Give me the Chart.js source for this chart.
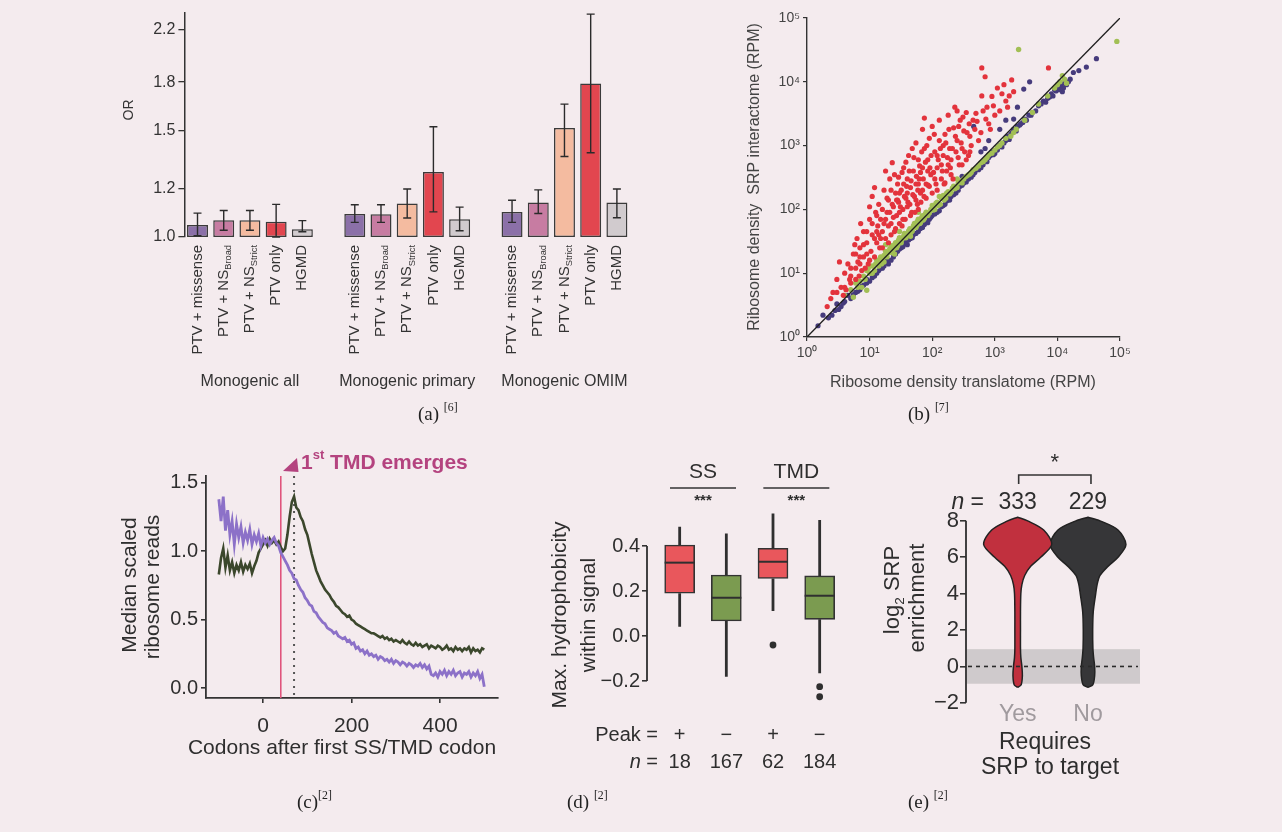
<!DOCTYPE html>
<html lang="en">
<head>
<meta charset="UTF-8">
<title>Figure panels (a)-(e)</title>
<script src="https://cdn.jsdelivr.net/npm/chart.js"></script>
<style>
  html, body { margin: 0; padding: 0; background: #f4ebee; }
  #page { position: relative; width: 1282px; height: 832px; overflow: hidden; background: #f4ebee; }
  #page canvas { position: absolute; left: 0; top: 0; }
</style>
</head>
<body>
<div id="page">
  <canvas id="chartA" width="1282" height="832"></canvas>
  <canvas id="chartB" width="1282" height="832"></canvas>
  <canvas id="chartC" width="1282" height="832"></canvas>
  <canvas id="chartD" width="1282" height="832"></canvas>
  <canvas id="chartE" width="1282" height="832"></canvas>
</div>
<script>
// ---------- (a) odds ratios with 95% CI ----------
const aGroups = ['Monogenic all', 'Monogenic primary', 'Monogenic OMIM'];
const aTests = ['PTV + missense', 'PTV + NS_{Broad}', 'PTV + NS_{Strict}', 'PTV only', 'HGMD'];
const orAll = [1.047, 1.066, 1.066, 1.06, 1.03];
const loAll = [1.005, 1.026, 1.026, 1.0, 1.02];
const hiAll = [1.095, 1.106, 1.106, 1.132, 1.064];
const orPrimary = [1.091, 1.09, 1.136, 1.28, 1.07];
const loPrimary = [1.057, 1.057, 1.075, 1.10, 1.024];
const hiPrimary = [1.13, 1.13, 1.2, 1.52, 1.12];
const orOmim = [1.10, 1.14, 1.513, 1.79, 1.14];
const loOmim = [1.057, 1.093, 1.357, 1.377, 1.076];
const hiOmim = [1.15, 1.196, 1.656, 2.33, 1.2];
const aTicks = [1.0, 1.2, 1.5, 1.8, 2.2];

// ---------- (b) ribosome density, RPM [translatome, SRP interactome] ----------
const redPts = [[2.1,3],[2.6,5],[3,8],[3.3,15],[3.5,6],[4,10],[4.2,5.5],[4.5,14],[3.8,4.5],[5,12],[5.5,20],[6,8],[6.3,35],[6.5,15],[7,25],[7.5,11],[8,45],[8,18],[7.2,60],[5.8,28],[6.8,9],[9,30],[9.5,14],[10,70],[10.5,22],[11,160],[11,40],[12,18],[12.5,90],[13,30],[13.5,55],[14,120],[14.5,25],[15,70],[10,110],[12,220],[16,45],[17,200],[18,35],[19,90],[20,140],[21,300],[22,60],[23,540],[24,110],[25,45],[26,180],[27,80],[28,250],[29,130],[30,60],[18,400],[25,350],[32,200],[34,100],[35,450],[37,70],[38,150],[40,300],[42,700],[44,120],[45,220],[47,90],[50,400],[52,160],[55,1100],[55,250],[58,120],[60,600],[48,900],[62,300],[65,180],[70,1800],[70,450],[75,900],[80,250],[85,600],[90,1300],[95,350],[100,2000],[100,180],[110,800],[120,450],[130,2500],[130,1200],[140,300],[150,700],[75,2700],[160,1500],[170,400],[180,3000],[190,900],[200,600],[220,1900],[230,4000],[250,1200],[270,500],[280,2500],[300,900],[320,1700],[350,3300],[380,700],[400,1400],[250,3500],[450,2500],[500,3200],[550,1200],[620,16500],[620,6000],[700,12000],[750,4000],[800,2200],[900,5900],[1000,3000],[1100,8000],[1300,6500],[1500,5000],[1860,10700],[1700,6000],[2000,7000],[7200,16500],[15,35],[20,55],[22,40],[30,90],[33,55],[40,110],[45,80],[55,140],[60,100],[70,200],[80,150],[90,230],[110,300],[120,200],[140,500],[160,260],[200,350],[240,800],[300,500],[350,600],[120,700],[60,250],[40,180],[28,140],[17,60],[13,45],[9,20],[7,18],[5,9],[35,250],[65,380],[85,400],[150,1000],[180,500],[400,800],
  [11,60],[12,35],[13,80],[14,40],[16,100],[16,25],[18,70],[19,150],[20,30],[21,90],[22,200],[23,120],[24,75],[26,50],[27,140],[29,320],[30,180],[31,110],[33,380],[34,70],[36,160],[38,550],[39,230],[41,130],[43,400],[46,280],[49,170],[51,650],[53,90],[56,330],[59,200],[63,480],[66,130],[68,800],[72,300],[74,160],[78,550],[82,1000],[86,240],[92,450],[96,700],[105,380],[108,1500],[115,250],[125,600],[135,900],[145,400],[155,250],[165,1100],[175,650],[185,1800],[195,450],[210,900],[215,300],[235,1400],[260,650],[265,2000],[290,1100],[310,2800],[330,800],[360,1600],[390,2200],[420,1000],[480,1800],[520,2400],[600,1600],[650,3500],[720,2600],[850,1800],[950,4200],[1200,3500],[1400,9000],[1600,4000],[4,6],[4.8,8],[6,12],[7,14],[8,28],[9,45],[10,16],[8.5,12],[6,20],[3,5],[2.4,4],[5,7]];
const greenPts = [[4,4.5],[5,5.5],[5.5,4.2],[6,7],[7,7.5],[7.5,6],[8,9],[9,5.4],[9,11],[10,10],[11,13],[12,11],[13,16],[14,13],[15,18],[16,17],[17,15],[18,22],[20,21],[22,27],[24,24],[26,30],[28,27],[30,36],[33,34],[36,42],[40,40],[44,50],[48,46],[52,60],[56,55],[60,70],[65,62],[70,80],[75,72],[80,90],[90,88],[100,115],[110,100],[120,130],[135,120],[150,165],[165,150],[180,190],[200,185],[220,230],[250,220],[280,280],[300,260],[350,330],[400,360],[450,420],[500,440],[600,540],[700,600],[800,720],[1000,850],[1200,1000],[1500,1300],[2000,1600],[2400,32000],[89000,43000],[9000,8000],[11000,10000],[12000,12500],[30,45],[60,90],[25,20],[45,38],[130,160],[18,28],[250,300],
  [6.5,6],[8.5,8],[9.5,12],[11,10],[12.5,14],[14,16],[15.5,14],[17,19],[19,18],[21,24],[23,21],[25,28],[27,25],[29,33],[32,30],[35,38],[38,36],[42,46],[46,44],[50,55],[55,52],[58,65],[63,60],[68,75],[72,68],[78,85],[85,80],[95,100],[105,98],[115,125],[125,115],[140,150],[155,140],[170,180],[190,175],[210,215],[230,210],[260,260],[290,270],[320,300],[380,350],[420,380],[550,480],[650,560],[750,650],[900,760],[1100,950],[1300,1100],[1800,1400],[2200,1800],[3000,2500],[4000,3300],[5000,4500],[7000,6000],[10000,9000],[13000,11000],[14000,9500]];
const purplePts = [[1.5,1.5],[1.8,2.2],[2.2,2],[2.8,2.6],[3,3.3],[3.5,3],[4,3.6],[4.5,4.5],[5,4],[6,5],[7,5.5],[8,6.5],[9,8],[10,7.5],[12,9],[14,11],[16,12],[18,15],[20,14],[24,18],[28,22],[32,25],[36,30],[40,28],[45,35],[50,40],[60,45],[70,52],[80,65],[90,70],[100,80],[120,90],[140,110],[160,120],[180,150],[200,160],[240,180],[280,230],[320,260],[380,300],[450,350],[500,420],[600,450],[700,600],[800,650],[900,800],[1000,750],[1200,1000],[1400,1100],[1600,1400],[1800,1500],[2000,1800],[2300,2000],[2600,2200],[3000,2600],[3500,3000],[4000,3300],[5000,4200],[6000,5000],[7000,5500],[8000,6500],[9000,7500],[10000,8000],[11000,9000],[12000,7000],[13000,9500],[15000,10000],[18000,14000],[22000,15000],[29000,17000],[42000,23000],[2300,4000],[2900,7700],[3600,10000],[460,2000],[1500,2500],[700,900],[300,330],
  [2.5,2.2],[3.2,2.7],[3.8,3.4],[5.5,4.6],[6.5,5.2],[7.5,6.2],[9,7],[11,8.5],[13,10],[15,12],[17,13],[19,16],[22,16],[26,20],[30,24],[34,26],[38,31],[42,33],[48,36],[55,42],[65,50],[75,58],[85,62],[95,75],[110,85],[130,95],[150,115],[170,135],[190,140],[220,170],[260,200],[300,240],[350,270],[420,320],[480,380],[550,420],[650,500],[750,560],[850,700],[950,720],[1100,850],[1300,950],[1500,1200],[1700,1250],[1900,1600],[2200,1700],[2500,2100],[2800,2300],[3200,2500],[3800,3000],[4500,3500],[5500,4500],[6500,4800],[7500,5800],[8500,6000],[9500,7200],[10500,7500],[11500,8500],[12500,8000],[14000,9000],[16000,11000],[800,1200],[1200,1800],[600,800],[2000,2600]];
const diagLine = [1, 100000];
const bTicks = [1, 10, 100, 1000, 10000, 100000];

// ---------- (c) median scaled ribosome reads by codon ----------
const codons = [-100,-95,-90,-85,-80,-75,-70,-65,-60,-55,
  -50,-45,-40,-35,-30,-25,-20,-15,-10,-5,
  0,5,10,15,20,25,30,35,40,45,
  50,55,60,65,70,75,80,85,90,95,
  100,105,110,115,120,125,130,135,140,145,
  150,155,160,165,170,175,180,185,190,195,
  200,205,210,215,220,225,230,235,240,245,
  250,255,260,265,270,275,280,285,290,295,
  300,305,310,315,320,325,330,335,340,345,
  350,355,360,365,370,375,380,385,390,395,
  400,405,410,415,420,425,430,435,440,445,
  450,455,460,465,470,475,480,485,490,495,
  500];
const readsPurple = [1.38,1.22,1.40,1.15,1.30,1.12,1.22,1.05,1.20,1.10,
  1.18,1.06,1.14,1.08,1.16,1.05,1.12,1.07,1.13,1.04,
  1.10,1.06,1.09,1.05,1.08,1.10,1.06,1.04,0.99,0.96,
  0.93,0.90,0.86,0.84,0.80,0.79,0.75,0.72,0.70,0.66,
  0.64,0.61,0.60,0.56,0.55,0.52,0.50,0.48,0.47,0.44,
  0.43,0.42,0.40,0.41,0.38,0.37,0.36,0.37,0.34,0.35,
  0.32,0.33,0.29,0.30,0.27,0.28,0.25,0.27,0.24,0.25,
  0.23,0.24,0.21,0.23,0.22,0.20,0.21,0.19,0.21,0.18,
  0.20,0.19,0.17,0.19,0.18,0.16,0.18,0.17,0.15,0.17,
  0.16,0.18,0.15,0.17,0.14,0.16,0.10,0.09,0.11,0.08,
  0.12,0.10,0.13,0.09,0.12,0.10,0.13,0.09,0.11,0.12,
  0.08,0.11,0.10,0.12,0.08,0.11,0.09,0.12,0.07,0.10,
  0.01];
const readsGreen = [0.83,0.95,1.02,0.88,0.97,0.86,0.92,0.84,0.90,0.86,
  0.92,0.85,0.90,0.87,0.91,0.84,0.89,0.93,0.99,1.02,
  1.05,1.08,1.04,1.09,1.06,1.08,1.05,1.07,1.03,1.00,
  1.02,1.12,1.25,1.36,1.40,1.32,1.30,1.25,1.22,1.16,
  1.12,1.05,0.98,0.92,0.86,0.82,0.78,0.75,0.72,0.70,
  0.68,0.65,0.63,0.60,0.59,0.57,0.55,0.54,0.52,0.53,
  0.50,0.49,0.47,0.46,0.45,0.44,0.43,0.42,0.41,0.40,
  0.40,0.39,0.38,0.37,0.38,0.36,0.37,0.35,0.36,0.34,
  0.35,0.34,0.33,0.35,0.33,0.32,0.34,0.32,0.31,0.33,
  0.31,0.32,0.30,0.31,0.32,0.29,0.31,0.30,0.29,0.31,
  0.30,0.28,0.29,0.31,0.28,0.29,0.27,0.30,0.28,0.29,
  0.27,0.29,0.28,0.30,0.26,0.29,0.27,0.28,0.26,0.29,
  0.28];
const ssCodon = 40;
const tmdCodon = 70;

// ---------- (d) max. hydrophobicity boxplots ----------
const dSignals = ['SS', 'TMD'];
const dPeak = ['+', '\u2212', '+', '\u2212'];
const dN = [18, 167, 62, 184];
const dQ1 = [0.19, 0.067, 0.256, 0.074];
const dMed = [0.326, 0.17, 0.33, 0.179];
const dQ3 = [0.404, 0.271, 0.39, 0.267];
const dLo = [0.041, -0.181, 0.111, -0.166];
const dHi = [0.486, 0.456, 0.545, 0.516];
const dOut = [[], [], [-0.04], [-0.225, -0.27]];
const dTicks = [-0.2, 0, 0.2, 0.4];

// ---------- (e) log2 SRP enrichment violins ----------
const eCats = ['Yes', 'No'];
const eCounts = [333, 229];
const eLevels = [-1.15, -1.0, -0.5, 0, 0.5, 1, 2, 3, 4, 4.5, 5, 5.5, 6, 6.7, 7.5, 8.0, 8.2];
const eYesWidth = [0, 0.05, 0.067, 0.06, 0.045, 0.04, 0.04, 0.04, 0.045, 0.06, 0.1, 0.185, 0.327, 0.484, 0.37, 0.142, 0];
const eNoWidth = [0, 0.07, 0.095, 0.095, 0.08, 0.07, 0.067, 0.075, 0.11, 0.13, 0.171, 0.284, 0.427, 0.54, 0.427, 0.171, 0];
const eBand = [-0.95, 0.95];
const eTicks = [-2, 0, 2, 4, 6, 8];

// ---------- helpers ----------
const PW = 1282, PH = 832;
const SANS = '"Liberation Sans", Arial, Helvetica, sans-serif';
const SERIF = '"Liberation Serif", "Times New Roman", serif';
const INK = '#2e2e2e';

Chart.defaults.font.family = SANS;
Chart.defaults.color = INK;
Chart.defaults.animation = false;
Chart.defaults.responsive = false;
Chart.defaults.events = [];
Chart.defaults.plugins.legend.display = false;
Chart.defaults.plugins.tooltip.enabled = false;

// place the chart area at fixed page coordinates
function framePadding(area, yW, xH) {
  return { left: area.l - yW, right: PW - area.r, top: area.t, bottom: PH - area.b - xH };
}

// '_{x}' subscript, '^{x}' superscript, '*{x}' italic
function rich(str) {
  return str.split(/([_^*]\{[^}]*\})/).filter(s => s).map(s => {
    const m = s.match(/^([_^*])\{([^}]*)\}$/);
    if (!m) return { t: s };
    return { t: m[2], sub: m[1] === '_', sup: m[1] === '^', italic: m[1] === '*' };
  });
}

function label(ctx, str, x, y, o) {
  const size = o.size || 14;
  const fam = o.family || SANS;
  const parts = rich(String(str));
  const fontFor = p => (p.italic ? 'italic ' : '') + (o.bold ? 'bold ' : '') +
    ((p.sub || p.sup) ? size * 0.62 : size).toFixed(1) + 'px ' + fam;
  ctx.save();
  ctx.translate(x, y);
  if (o.rot) ctx.rotate(o.rot);
  ctx.fillStyle = o.color || INK;
  ctx.textBaseline = 'middle';
  ctx.textAlign = 'left';
  let total = 0;
  const widths = parts.map(p => { ctx.font = fontFor(p); const w = ctx.measureText(p.t).width; total += w; return w; });
  let cx = o.align === 'right' ? -total : o.align === 'left' ? 0 : -total / 2;
  parts.forEach((p, i) => {
    ctx.font = fontFor(p);
    const dy = p.sub ? size * 0.32 : p.sup ? -size * 0.36 : 0;
    ctx.fillText(p.t, cx, dy);
    cx += widths[i];
  });
  ctx.restore();
}

function yAxisLine(chart, from, to, width) {
  const s = chart.scales.y, x = chart.chartArea.left, ctx = chart.ctx;
  ctx.save();
  ctx.strokeStyle = INK;
  ctx.lineWidth = width;
  ctx.beginPath();
  ctx.moveTo(x, s.getPixelForValue(from));
  ctx.lineTo(x, s.getPixelForValue(to));
  ctx.stroke();
  ctx.restore();
}

const fmt1 = v => (v < 0 ? '\u2212' : '') + Math.abs(v).toFixed(1);
const supDigits = ['\u2070', '\u00b9', '\u00b2', '\u00b3', '\u2074', '\u2075'];

// ---------- (a) ----------
const aLabels = [], aVals = [], aLo = [], aHi = [], aFill = [], aGroupIdx = [];
const aColors = ['#8b70a8', '#c77ca2', '#f4bba0', '#e2464f', '#d1cbce'];
[[orAll, loAll, hiAll], [orPrimary, loPrimary, hiPrimary], [orOmim, loOmim, hiOmim]].forEach((g, gi) => {
  if (gi > 0) {
    aLabels.push(''); aVals.push(null); aLo.push(null); aHi.push(null);
    aFill.push('rgba(0,0,0,0)'); aGroupIdx.push(-1);
  }
  aTests.forEach((t, ti) => {
    aLabels.push(t); aVals.push(g[0][ti]); aLo.push(g[1][ti]); aHi.push(g[2][ti]);
    aFill.push(aColors[ti]); aGroupIdx.push(gi);
  });
});

const areaA = { l: 184.4, r: 630, t: 13, b: 237 };
new Chart(document.getElementById('chartA'), {
  type: 'bar',
  data: {
    labels: aLabels,
    datasets: [{
      data: aVals,
      backgroundColor: aFill,
      borderColor: '#3a3a3a',
      borderWidth: 1.5,
      borderSkipped: false,
      barPercentage: 0.8,
      categoryPercentage: 1.0
    }]
  },
  options: {
    layout: { padding: framePadding(areaA, 60, 20) },
    scales: {
      x: {
        type: 'category',
        ticks: { display: false },
        grid: { display: false },
        border: { display: false },
        afterFit: s => { s.height = 20; }
      },
      y: {
        type: 'logarithmic',
        min: 1.0,
        max: 2.34,
        afterBuildTicks: s => { s.ticks = aTicks.map(v => ({ value: v })); },
        afterFit: s => { s.width = 60; },
        ticks: { callback: v => Number(v).toFixed(1), font: { size: 16 }, color: '#333', padding: 3 },
        grid: { drawOnChartArea: false, tickLength: 6, color: '#333', lineWidth: 1.3 },
        border: { display: true, color: '#333', width: 1.5 }
      }
    }
  },
  plugins: [{
    id: 'aDecor',
    afterDatasetsDraw(chart) {
      const ctx = chart.ctx, ys = chart.scales.y, meta = chart.getDatasetMeta(0);
      ctx.save();
      ctx.strokeStyle = '#2b2b2b';
      ctx.lineWidth = 1.4;
      aLo.forEach((lo, i) => {
        if (lo == null) return;
        const x = meta.data[i].x, y1 = ys.getPixelForValue(lo), y2 = ys.getPixelForValue(aHi[i]);
        ctx.beginPath();
        ctx.moveTo(x, y1); ctx.lineTo(x, y2);
        ctx.moveTo(x - 4, y1); ctx.lineTo(x + 4, y1);
        ctx.moveTo(x - 4, y2); ctx.lineTo(x + 4, y2);
        ctx.stroke();
      });
      ctx.restore();
    },
    afterDraw(chart) {
      const ctx = chart.ctx, meta = chart.getDatasetMeta(0);
      aLabels.forEach((t, i) => {
        if (!t) return;
        label(ctx, t, meta.data[i].x, 245, { size: 15, rot: -Math.PI / 2, align: 'right', color: '#333' });
      });
      aGroups.forEach((g, gi) => {
        const idx = aGroupIdx.map((v, i) => v === gi ? i : -1).filter(i => i >= 0);
        const cx = (meta.data[idx[0]].x + meta.data[idx[idx.length - 1]].x) / 2;
        label(ctx, g, cx, 382, { size: 16, color: '#333' });
      });
      label(ctx, 'OR', 129, 110, { size: 14, rot: -Math.PI / 2, color: '#333' });
      label(ctx, '(a) ^{[6]}', 418, 415, { size: 19, family: SERIF, align: 'left', color: '#222' });
    }
  }]
});

// ---------- (b) ----------
const areaB = { l: 807, r: 1120, t: 18, b: 337 };
const toXY = p => ({ x: p[0], y: p[1] });
new Chart(document.getElementById('chartB'), {
  type: 'scatter',
  data: {
    datasets: [
      { data: diagLine.map(v => ({ x: v, y: v })), showLine: true, borderColor: '#1f1f1f',
        borderWidth: 1.3, pointRadius: 0, order: 0 },
      { data: redPts.map(toXY), backgroundColor: '#e3333c', pointRadius: 2.6, borderWidth: 0, order: 1 },
      { data: greenPts.map(toXY), backgroundColor: '#a2bf55', pointRadius: 2.7, borderWidth: 0, order: 2 },
      { data: purplePts.map(toXY), backgroundColor: '#463b7c', pointRadius: 2.6, borderWidth: 0, order: 3 }
    ]
  },
  options: {
    layout: { padding: framePadding(areaB, 50, 30) },
    scales: {
      x: {
        type: 'logarithmic', min: 1, max: 100000,
        afterBuildTicks: s => { s.ticks = bTicks.map(v => ({ value: v })); },
        afterFit: s => { s.height = 30; },
        ticks: { callback: v => '10' + supDigits[Math.round(Math.log10(v))], font: { size: 14 },
          color: '#444', padding: 4, maxRotation: 0, autoSkip: false },
        grid: { drawOnChartArea: false, tickLength: 4, color: '#333', lineWidth: 1.2 },
        border: { display: true, color: '#333', width: 1.4 }
      },
      y: {
        type: 'logarithmic', min: 1, max: 100000,
        afterBuildTicks: s => { s.ticks = bTicks.map(v => ({ value: v })); },
        afterFit: s => { s.width = 50; },
        ticks: { callback: v => '10' + supDigits[Math.round(Math.log10(v))], font: { size: 14 },
          color: '#444', padding: 3, autoSkip: false },
        grid: { drawOnChartArea: false, tickLength: 4, color: '#333', lineWidth: 1.2 },
        border: { display: true, color: '#333', width: 1.4 }
      }
    }
  },
  plugins: [{
    id: 'bDecor',
    afterDraw(chart) {
      const ctx = chart.ctx;
      label(ctx, 'Ribosome density translatome (RPM)', 963, 383, { size: 16, color: '#444' });
      label(ctx, 'Ribosome density  SRP interactome (RPM)', 755, 177, { size: 16, color: '#444', rot: -Math.PI / 2 });
      label(ctx, '(b) ^{[7]}', 908, 415, { size: 19, family: SERIF, align: 'left', color: '#222' });
    }
  }]
});

// ---------- (c) ----------
const areaC = { l: 206, r: 498, t: 476, b: 698 };
new Chart(document.getElementById('chartC'), {
  type: 'line',
  data: {
    datasets: [
      { data: codons.map((c, i) => ({ x: c, y: readsPurple[i] })), borderColor: '#8c71c8',
        borderWidth: 2.8, pointRadius: 0, tension: 0, order: 0 },
      { data: codons.map((c, i) => ({ x: c, y: readsGreen[i] })), borderColor: '#3b472c',
        borderWidth: 2.6, pointRadius: 0, tension: 0, order: 1 }
    ]
  },
  options: {
    layout: { padding: framePadding(areaC, 100, 40) },
    scales: {
      x: {
        type: 'linear', min: -129, max: 531,
        afterBuildTicks: s => { s.ticks = [0, 200, 400].map(v => ({ value: v })); },
        afterFit: s => { s.height = 40; },
        ticks: { font: { size: 21 }, color: INK, padding: 11, maxRotation: 0 },
        grid: { drawOnChartArea: false, tickLength: 5, color: '#333', lineWidth: 1.6 },
        border: { display: true, color: '#333', width: 1.8 }
      },
      y: {
        type: 'linear', min: -0.073, max: 1.55,
        afterBuildTicks: s => { s.ticks = [0, 0.5, 1.0, 1.5].map(v => ({ value: v })); },
        afterFit: s => { s.width = 100; },
        ticks: { callback: v => fmt1(v), font: { size: 20 }, color: INK, padding: 3 },
        grid: { drawOnChartArea: false, tickLength: 5, color: '#333', lineWidth: 1.6 },
        border: { display: true, color: '#333', width: 1.8 }
      }
    }
  },
  plugins: [{
    id: 'cDecor',
    beforeDatasetsDraw(chart) {
      const ctx = chart.ctx, xs = chart.scales.x, a = chart.chartArea;
      ctx.save();
      ctx.strokeStyle = '#e0547c';
      ctx.lineWidth = 1.6;
      const xr = xs.getPixelForValue(ssCodon);
      ctx.beginPath(); ctx.moveTo(xr, a.top); ctx.lineTo(xr, a.bottom); ctx.stroke();
      ctx.strokeStyle = '#555';
      ctx.lineWidth = 2;
      ctx.setLineDash([2, 5]);
      const xd = xs.getPixelForValue(tmdCodon);
      ctx.beginPath(); ctx.moveTo(xd, a.top); ctx.lineTo(xd, a.bottom); ctx.stroke();
      ctx.restore();
    },
    afterDraw(chart) {
      const ctx = chart.ctx;
      ctx.save();
      ctx.fillStyle = '#b4437f';
      ctx.beginPath();
      ctx.moveTo(283, 471); ctx.lineTo(297, 458); ctx.lineTo(298.5, 472); ctx.closePath();
      ctx.fill();
      ctx.restore();
      label(ctx, '1^{st} TMD emerges', 301, 463, { size: 21, bold: true, align: 'left', color: '#b4437f' });
      label(ctx, 'Median scaled', 130, 585, { size: 21, rot: -Math.PI / 2 });
      label(ctx, 'ribosome reads', 153, 587, { size: 21, rot: -Math.PI / 2 });
      label(ctx, 'Codons after first SS/TMD codon', 342, 748, { size: 21 });
      label(ctx, '(c)^{[2]}', 297, 803, { size: 19, family: SERIF, align: 'left', color: '#222' });
    }
  }]
});

// ---------- (d) ----------
const areaD = { l: 647, r: 843, t: 505.5, b: 703.5 };
const dPos = dN.map((n, i) => i + 1);
const dFill = ['#e9575c', '#7b9b50', '#e9575c', '#7b9b50'];
new Chart(document.getElementById('chartD'), {
  type: 'bar',
  data: {
    datasets: [{
      data: dPos.map((p, i) => ({ x: p, y: [dQ1[i], dQ3[i]] })),
      backgroundColor: dFill,
      borderColor: '#333',
      borderWidth: 1.6,
      borderSkipped: false,
      barThickness: 30
    }]
  },
  options: {
    layout: { padding: framePadding(areaD, 60, 20) },
    scales: {
      x: {
        type: 'linear', min: 0.3, max: 4.5, offset: false,
        ticks: { display: false }, grid: { display: false }, border: { display: false },
        afterFit: s => { s.height = 20; }
      },
      y: {
        type: 'linear', min: -0.3, max: 0.58,
        afterBuildTicks: s => { s.ticks = dTicks.map(v => ({ value: v })); },
        afterFit: s => { s.width = 60; },
        ticks: { callback: v => fmt1(v), font: { size: 20 }, color: INK, padding: 2 },
        grid: { drawOnChartArea: false, tickLength: 5, color: '#333', lineWidth: 1.6 },
        border: { display: false }
      }
    }
  },
  plugins: [{
    id: 'dDecor',
    afterDatasetsDraw(chart) {
      const ctx = chart.ctx, xs = chart.scales.x, ys = chart.scales.y;
      ctx.save();
      ctx.strokeStyle = '#2f2f2f';
      dPos.forEach((p, i) => {
        const x = xs.getPixelForValue(p);
        ctx.lineWidth = 2.8;
        ctx.beginPath();
        ctx.moveTo(x, ys.getPixelForValue(dQ3[i])); ctx.lineTo(x, ys.getPixelForValue(dHi[i]));
        ctx.moveTo(x, ys.getPixelForValue(dQ1[i])); ctx.lineTo(x, ys.getPixelForValue(dLo[i]));
        ctx.stroke();
        ctx.lineWidth = 2;
        const ym = ys.getPixelForValue(dMed[i]);
        ctx.beginPath(); ctx.moveTo(x - 15, ym); ctx.lineTo(x + 15, ym); ctx.stroke();
        ctx.fillStyle = '#2f2f2f';
        dOut[i].forEach(v => {
          ctx.beginPath(); ctx.arc(x, ys.getPixelForValue(v), 3.4, 0, Math.PI * 2); ctx.fill();
        });
      });
      ctx.restore();
    },
    afterDraw(chart) {
      const ctx = chart.ctx, xs = chart.scales.x;
      yAxisLine(chart, -0.2, 0.4, 1.8);
      dSignals.forEach((s, si) => {
        const cx = (xs.getPixelForValue(dPos[si * 2]) + xs.getPixelForValue(dPos[si * 2 + 1])) / 2;
        label(ctx, s, cx, 472, { size: 21 });
        ctx.save();
        ctx.strokeStyle = '#333'; ctx.lineWidth = 1.5;
        ctx.beginPath(); ctx.moveTo(cx - 33, 488); ctx.lineTo(cx + 33, 488); ctx.stroke();
        ctx.restore();
        label(ctx, '***', cx, 501, { size: 15, bold: true });
      });
      label(ctx, 'Peak =', 658, 735, { size: 20, align: 'right' });
      label(ctx, '*{n} =', 658, 762, { size: 20, align: 'right' });
      dPos.forEach((p, i) => {
        const x = xs.getPixelForValue(p);
        label(ctx, dPeak[i], x, 735, { size: 20 });
        label(ctx, dN[i], x, 762, { size: 20 });
      });
      label(ctx, 'Max. hydrophobicity', 560, 615, { size: 21, rot: -Math.PI / 2 });
      label(ctx, 'within signal', 589, 615, { size: 21, rot: -Math.PI / 2 });
      label(ctx, '(d) ^{[2]}', 567, 803, { size: 19, family: SERIF, align: 'left', color: '#222' });
    }
  }]
});

// ---------- (e) ----------
const areaE = { l: 966, r: 1140, t: 515.4, b: 706.5 };
function violinOutline(center, widths) {
  const right = eLevels.map((y, i) => ({ x: center + widths[i], y }));
  const left = eLevels.map((y, i) => ({ x: center - widths[i], y })).reverse();
  return right.concat(left);
}
new Chart(document.getElementById('chartE'), {
  type: 'line',
  data: {
    datasets: [
      { data: violinOutline(1, eYesWidth), fill: 'shape', backgroundColor: '#c1303e',
        borderColor: '#222', borderWidth: 1.5, pointRadius: 0, tension: 0.3 },
      { data: violinOutline(2, eNoWidth), fill: 'shape', backgroundColor: '#363638',
        borderColor: '#222', borderWidth: 1.5, pointRadius: 0, tension: 0.3 }
    ]
  },
  options: {
    layout: { padding: framePadding(areaE, 60, 20) },
    scales: {
      x: {
        type: 'linear', min: 0.265, max: 2.74,
        ticks: { display: false }, grid: { display: false }, border: { display: false },
        afterFit: s => { s.height = 20; }
      },
      y: {
        type: 'linear', min: -2.2, max: 8.3,
        afterBuildTicks: s => { s.ticks = eTicks.map(v => ({ value: v })); },
        afterFit: s => { s.width = 60; },
        ticks: { callback: v => (v < 0 ? '\u2212' : '') + Math.abs(v), font: { size: 22 }, color: INK, padding: 1 },
        grid: { drawOnChartArea: false, tickLength: 6, color: '#333', lineWidth: 1.6 },
        border: { display: false }
      }
    }
  },
  plugins: [{
    id: 'eDecor',
    beforeDatasetsDraw(chart) {
      const ctx = chart.ctx, ys = chart.scales.y, a = chart.chartArea;
      const y1 = ys.getPixelForValue(eBand[1]), y0 = ys.getPixelForValue(eBand[0]);
      ctx.save();
      ctx.fillStyle = '#cfcacc';
      ctx.fillRect(a.left + 1, y1, a.right - a.left - 1, y0 - y1);
      ctx.restore();
    },
    afterDatasetsDraw(chart) {
      const ctx = chart.ctx, ys = chart.scales.y, a = chart.chartArea;
      const y = ys.getPixelForValue(0);
      ctx.save();
      ctx.strokeStyle = '#2a2a2a'; ctx.lineWidth = 1.6; ctx.setLineDash([4, 4]);
      ctx.beginPath(); ctx.moveTo(a.left + 2, y); ctx.lineTo(a.right - 2, y); ctx.stroke();
      ctx.restore();
    },
    afterDraw(chart) {
      const ctx = chart.ctx, xs = chart.scales.x;
      yAxisLine(chart, -2, 8, 1.8);
      const x1 = xs.getPixelForValue(1), x2 = xs.getPixelForValue(2);
      eCats.forEach((c, i) => {
        const x = xs.getPixelForValue(i + 1);
        label(ctx, c, x, 715, { size: 23, color: '#a09a9e' });
        label(ctx, eCounts[i], x, 503, { size: 23 });
      });
      label(ctx, '*{n} =', 984, 503, { size: 23, align: 'right' });
      ctx.save();
      ctx.strokeStyle = '#333'; ctx.lineWidth = 1.6;
      ctx.beginPath();
      ctx.moveTo(x1 + 1, 484); ctx.lineTo(x1 + 1, 475); ctx.lineTo(x2 + 3, 475); ctx.lineTo(x2 + 3, 484);
      ctx.stroke();
      ctx.restore();
      label(ctx, '*', (x1 + x2) / 2 + 2, 463, { size: 22 });
      label(ctx, 'log_{2} SRP', 893, 590, { size: 22, rot: -Math.PI / 2 });
      label(ctx, 'enrichment', 918, 598, { size: 22, rot: -Math.PI / 2 });
      label(ctx, 'Requires', 1045, 743, { size: 23 });
      label(ctx, 'SRP to target', 1050, 768, { size: 23 });
      label(ctx, '(e) ^{[2]}', 908, 803, { size: 19, family: SERIF, align: 'left', color: '#222' });
    }
  }]
});
</script>
</body>
</html>
